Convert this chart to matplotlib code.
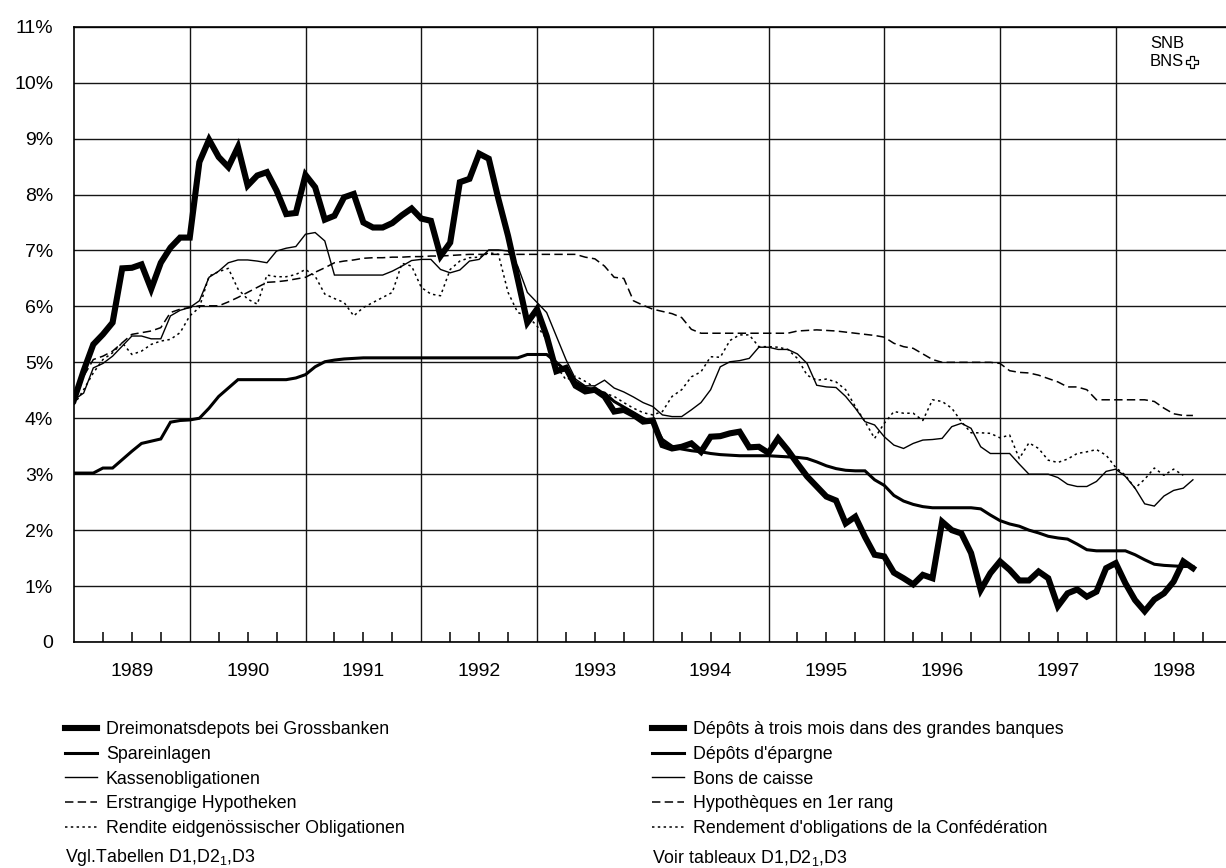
import numpy as np
import matplotlib
matplotlib.use("Agg")
from matplotlib import pyplot as plt
from matplotlib.patches import Polygon
from matplotlib.ticker import FixedLocator, FuncFormatter

plt.rcParams['font.family'] = ['Liberation Sans', 'DejaVu Sans']

WIDTH_PX, HEIGHT_PX = 1226, 868
START_YEAR = 1989

years = list(range(1989, 1999))
y_ticks = list(range(0, 12))
y_tick_labels = ['0'] + [f'{v}%' for v in range(1, 12)]

# monthly rates from January 1989, in percent
dreimonats = [
    4.33, 4.85, 5.32, 5.50, 5.71, 6.68, 6.69, 6.75, 6.31, 6.78, 7.05, 7.23,
    7.23, 8.58, 8.98, 8.67, 8.49, 8.85, 8.16, 8.34, 8.40, 8.07, 7.65, 7.67,
    8.35, 8.13, 7.55, 7.62, 7.95, 8.01, 7.50, 7.41, 7.41, 7.49, 7.63, 7.75,
    7.57, 7.53, 6.90, 7.14, 8.22, 8.28, 8.73, 8.64, 7.92, 7.26, 6.49, 5.71,
    5.95, 5.47, 4.84, 4.90, 4.58, 4.48, 4.51, 4.39, 4.12, 4.15, 4.06, 3.94,
    3.96, 3.52, 3.46, 3.49, 3.55, 3.40, 3.67, 3.68, 3.73, 3.76, 3.48, 3.49,
    3.38, 3.64, 3.43, 3.19, 2.96, 2.78, 2.60, 2.53, 2.12, 2.24, 1.88, 1.56,
    1.53, 1.24, 1.14, 1.03, 1.20, 1.14, 2.15, 2.00, 1.94, 1.59, 0.93, 1.23,
    1.44, 1.29, 1.10, 1.10, 1.26, 1.14, 0.64, 0.87, 0.94, 0.81, 0.90, 1.32,
    1.41, 1.05, 0.75, 0.55, 0.76, 0.87, 1.08, 1.44, 1.32,
]
spareinlagen = [
    3.02, 3.02, 3.02, 3.11, 3.11, 3.26, 3.41, 3.55, 3.59, 3.63, 3.93, 3.96,
    3.97, 4.00, 4.18, 4.39, 4.54, 4.69, 4.69, 4.69, 4.69, 4.69, 4.69, 4.72,
    4.78, 4.92, 5.01, 5.04, 5.06, 5.07, 5.08, 5.08, 5.08, 5.08, 5.08, 5.08,
    5.08, 5.08, 5.08, 5.08, 5.08, 5.08, 5.08, 5.08, 5.08, 5.08, 5.08, 5.14,
    5.14, 5.14, 5.00, 4.85, 4.65, 4.55, 4.50, 4.45, 4.30, 4.20, 4.10, 4.00,
    3.92, 3.62, 3.50, 3.45, 3.42, 3.40, 3.37, 3.35, 3.34, 3.33, 3.33, 3.33,
    3.33, 3.32, 3.31, 3.30, 3.28, 3.22, 3.15, 3.10, 3.07, 3.06, 3.06, 2.90,
    2.80, 2.62, 2.52, 2.46, 2.42, 2.40, 2.40, 2.40, 2.40, 2.40, 2.38, 2.27,
    2.17, 2.11, 2.07, 2.00, 1.95, 1.89, 1.86, 1.84, 1.75, 1.65, 1.63, 1.63,
    1.63, 1.63, 1.56, 1.47, 1.39, 1.37, 1.36, 1.35, 1.35,
]
kassenobligationen = [
    4.33, 4.45, 4.90, 4.98, 5.11, 5.29, 5.47, 5.47, 5.42, 5.42, 5.83, 5.93,
    5.98, 6.10, 6.52, 6.63, 6.78, 6.83, 6.83, 6.81, 6.78, 6.99, 7.04, 7.07,
    7.29, 7.32, 7.17, 6.56, 6.56, 6.56, 6.56, 6.56, 6.56, 6.63, 6.72, 6.82,
    6.84, 6.84, 6.66, 6.60, 6.65, 6.81, 6.84, 7.01, 7.01, 6.99, 6.72, 6.25,
    6.07, 5.89, 5.47, 5.05, 4.70, 4.58, 4.58, 4.68, 4.54, 4.47, 4.38, 4.28,
    4.21, 4.06, 4.03, 4.03, 4.15, 4.28, 4.51, 4.92, 5.01, 5.03, 5.07, 5.27,
    5.27, 5.23, 5.23, 5.15, 4.98, 4.59, 4.56, 4.55, 4.39, 4.18, 3.94, 3.88,
    3.67, 3.52, 3.46, 3.55, 3.61, 3.62, 3.64, 3.85, 3.91, 3.82, 3.49, 3.37,
    3.37, 3.37, 3.18, 3.00, 3.00, 3.00, 2.94, 2.82, 2.78, 2.78, 2.87, 3.05,
    3.09, 2.96, 2.75, 2.47, 2.43, 2.61, 2.71, 2.75, 2.90,
]
hypotheken = [
    4.35, 4.75, 5.05, 5.11, 5.20, 5.35, 5.50, 5.53, 5.56, 5.62, 5.89, 5.95,
    5.98, 6.01, 6.01, 6.01, 6.08, 6.16, 6.25, 6.34, 6.43, 6.44, 6.46, 6.49,
    6.52, 6.61, 6.69, 6.78, 6.81, 6.83, 6.86, 6.87, 6.87, 6.88, 6.88, 6.89,
    6.89, 6.90, 6.90, 6.91, 6.92, 6.93, 6.93, 6.93, 6.93, 6.93, 6.93, 6.93,
    6.93, 6.93, 6.93, 6.93, 6.93, 6.88, 6.85, 6.72, 6.52, 6.50, 6.10, 6.02,
    5.95, 5.91, 5.87, 5.80, 5.59, 5.52, 5.52, 5.52, 5.52, 5.52, 5.52, 5.52,
    5.52, 5.52, 5.52, 5.56, 5.57, 5.58, 5.57, 5.56, 5.54, 5.52, 5.50, 5.48,
    5.45, 5.34, 5.28, 5.25, 5.15, 5.05, 5.00, 5.00, 5.00, 5.00, 5.00, 5.00,
    4.98, 4.85, 4.82, 4.81, 4.77, 4.71, 4.65, 4.56, 4.56, 4.51, 4.33, 4.33,
    4.33, 4.33, 4.33, 4.33, 4.30, 4.18, 4.08, 4.05, 4.05,
]
rendite = [
    4.24, 4.51, 4.81, 5.05, 5.17, 5.35, 5.14, 5.20, 5.32, 5.38, 5.41, 5.53,
    5.83, 5.98, 6.54, 6.62, 6.68, 6.31, 6.13, 6.04, 6.56, 6.53, 6.53, 6.57,
    6.66, 6.54, 6.22, 6.14, 6.07, 5.83, 5.98, 6.07, 6.16, 6.25, 6.77, 6.72,
    6.34, 6.22, 6.19, 6.66, 6.81, 6.87, 6.88, 6.96, 6.93, 6.25, 5.89, 5.83,
    5.65, 5.41, 4.93, 4.69, 4.75, 4.66, 4.55, 4.45, 4.39, 4.28, 4.18, 4.10,
    4.06, 4.12, 4.39, 4.51, 4.74, 4.83, 5.10, 5.09, 5.39, 5.49, 5.49, 5.28,
    5.28, 5.27, 5.23, 5.07, 4.77, 4.68, 4.70, 4.65, 4.51, 4.21, 3.94, 3.64,
    3.91, 4.12, 4.09, 4.09, 3.96, 4.33, 4.30, 4.18, 3.94, 3.74, 3.74, 3.73,
    3.65, 3.70, 3.28, 3.56, 3.46, 3.25, 3.21, 3.27, 3.37, 3.40, 3.44, 3.34,
    3.12, 2.98, 2.75, 2.91, 3.11, 2.98, 3.09, 2.98,
]

labels_de = [
    'Dreimonatsdepots bei Grossbanken',
    'Spareinlagen',
    'Kassenobligationen',
    'Erstrangige Hypotheken',
    'Rendite eidgenössischer Obligationen',
]
labels_fr = [
    'Dépôts à trois mois dans des grandes banques',
    "Dépôts d'épargne",
    'Bons de caisse',
    'Hypothèques en 1er rang',
    "Rendement d'obligations de la Confédération",
]
source_de = 'Vgl.Tabellen D1,D2$_\\mathregular{1}$,D3'
source_fr = 'Voir tableaux D1,D2$_\\mathregular{1}$,D3'

series = [dreimonats, spareinlagen, kassenobligationen, hypotheken, rendite]
styles = [
    dict(lw=4.4, ls='-', zorder=6),
    dict(lw=2.2, ls='-', zorder=5),
    dict(lw=1.0, ls='-', zorder=4),
    dict(lw=1.1, ls=(0, (5.5, 2.8)), zorder=3),
    dict(lw=1.1, ls=(0, (1.6, 2.2)), zorder=3),
]


def fx(px):
    return px / WIDTH_PX


def fy(py):
    return 1 - py / HEIGHT_PX


def months(values):
    return START_YEAR + np.arange(len(values)) / 12


fig = plt.figure(figsize=(WIDTH_PX / 100, HEIGHT_PX / 100), dpi=100)
ax = fig.add_axes([fx(74), fy(642), 1 - fx(74), (642 - 26.7) / HEIGHT_PX])

lines = []
for values, style in zip(series, styles):
    line, = ax.plot(months(values), values, color='black',
                    solid_joinstyle='miter', **style)
    lines.append(line)

x_right = START_YEAR + (WIDTH_PX - 74) / 115.75
ax.set_xlim(START_YEAR, x_right)
ax.set_ylim(0, 11)

ax.set_yticks(y_ticks, y_tick_labels)
ax.tick_params(axis='y', length=0, pad=15, labelsize=14)

# year boundaries carry the grid, quarter ticks carry the year labels
ax.xaxis.set_major_locator(FixedLocator(years[1:]))
quarters = [y + q / 4 for y in years for q in (1, 2, 3)]
ax.xaxis.set_minor_locator(FixedLocator(quarters))
ax.xaxis.set_major_formatter(FuncFormatter(lambda v, p: ''))
ax.xaxis.set_minor_formatter(
    FuncFormatter(lambda v, p: str(int(v)) if abs(v % 1 - 0.5) < 1e-6 else ''))
ax.tick_params(axis='x', which='major', length=0)
ax.tick_params(axis='x', which='minor', direction='in', length=7, width=1.1,
               pad=15, labelsize=14, color='black')

ax.grid(True, which='major', axis='both', color='#151515', lw=1.0)
ax.set_axisbelow(True)
for side in ('top', 'left', 'bottom'):
    ax.spines[side].set_linewidth(1.2)
ax.spines['right'].set_visible(False)

legend_kw = dict(loc='upper left', frameon=False, fontsize=12.8,
                 handlelength=1.8, handletextpad=0.5, labelspacing=0.44,
                 borderpad=0, borderaxespad=0)
fig.legend(lines, labels_de, bbox_to_anchor=(fx(65), fy(721)), **legend_kw)
fig.legend(lines, labels_fr, bbox_to_anchor=(fx(652), fy(721)), **legend_kw)

fig.text(fx(65), fy(858), source_de, fontsize=12.8, va='center')
fig.text(fx(652), fy(858), source_fr, fontsize=12.8, va='center')

# bank mark in the upper right corner
logo_font = ['Liberation Sans Narrow', 'Liberation Sans', 'DejaVu Sans']
fig.text(fx(1150), fy(44), 'SNB', fontsize=12, va='center', family=logo_font)
fig.text(fx(1150), fy(61), 'BNS', fontsize=12, va='center', family=logo_font)
cx, cy, arm, half = 1192, 62, 6, 2.2
cross = [(-half, -arm), (half, -arm), (half, -half), (arm, -half), (arm, half),
         (half, half), (half, arm), (-half, arm), (-half, half), (-arm, half),
         (-arm, -half), (-half, -half)]
fig.add_artist(Polygon([(fx(cx + dx), fy(cy + dy)) for dx, dy in cross],
                       closed=True, fill=False, lw=0.9, ec='black',
                       transform=fig.transFigure))

fig.savefig('out.png', dpi=100)
